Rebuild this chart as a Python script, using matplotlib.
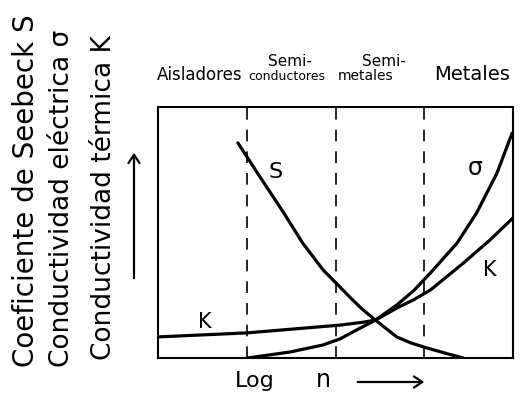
import matplotlib
matplotlib.use("Agg")
import matplotlib.pyplot as plt

# Regions (top category labels)
region_bottom = ["Aisladores", "conductores", "metales", "Metales"]
region_top = ["Semi-", "Semi-"]
dividers = [1, 2, 3]

# Seebeck coefficient S
s_x = [0.90, 1.15, 1.41, 1.63, 1.86, 2.05, 2.16, 2.30, 2.45, 2.69, 2.85, 3.03, 3.25, 3.44]
s_y = [0.857, 0.721, 0.582, 0.458, 0.351, 0.283, 0.243, 0.195, 0.151, 0.084, 0.060, 0.040, 0.018, 0.0]

# Electrical conductivity sigma
sig_x = [1.01, 1.49, 1.86, 2.05, 2.24, 2.45, 2.69, 2.88, 3.07, 3.37, 3.59, 3.82, 3.99]
sig_y = [0.0, 0.024, 0.052, 0.076, 0.112, 0.151, 0.211, 0.268, 0.339, 0.458, 0.578, 0.737, 0.896]

# Thermal conductivity K
k_x = [0.0, 1.0, 2.05, 2.30, 2.45, 2.69, 2.88, 3.07, 3.44, 3.74, 4.0]
k_y = [0.084, 0.100, 0.131, 0.142, 0.151, 0.199, 0.232, 0.271, 0.378, 0.470, 0.558]

W, H = 528, 397
fig = plt.figure(figsize=(W / 100, H / 100), dpi=100)
fig.patch.set_facecolor("white")

def fx(px):
    return px / W

def fy(py):
    return 1 - py / H

ax = fig.add_axes([fx(158), fy(358), (513 - 158) / W, (358 - 107) / H])
ax.set_xlim(0, 4)
ax.set_ylim(0, 1)
ax.set_xticks([])
ax.set_yticks([])
for sp in ax.spines.values():
    sp.set_linewidth(1.5)
    sp.set_color("black")

for d in dividers:
    ax.axvline(d, color="black", lw=1.2, linestyle=(0, (7, 6)))

lw = 2.3
ax.plot(s_x, s_y, color="black", lw=lw, solid_capstyle="round", solid_joinstyle="round")
ax.plot(sig_x, sig_y, color="black", lw=lw, solid_capstyle="round", solid_joinstyle="round")
ax.plot(k_x, k_y, color="black", lw=lw, solid_capstyle="round", solid_joinstyle="round")

ax.text(1.32, 0.74, "S", fontsize=16, ha="center", va="center")
ax.text(3.57, 0.757, "σ", fontsize=17, ha="center", va="center")
ax.text(3.74, 0.35, "K", fontsize=15, ha="center", va="center")
ax.text(0.53, 0.143, "K", fontsize=15, ha="center", va="center")

# top region labels (axes fraction)
bx = [0.118, 0.362, 0.585, 0.885]
bsize = [12, 9, 10, 14]
for lab, x, s in zip(region_bottom, bx, bsize):
    ax.text(x, 1.108, lab, transform=ax.transAxes, ha="center", va="baseline", fontsize=s)
tx = [0.372, 0.637]
for lab, x in zip(region_top, tx):
    ax.text(x, 1.165, lab, transform=ax.transAxes, ha="center", va="baseline", fontsize=11)

# y labels
ylabels = ["Coeficiente de Seebeck S", "Conductividad eléctrica σ", "Conductividad térmica K"]
ypos = [(26, 191), (62, 198), (104, 198)]
ysize = [20, 19, 19]
for lab, (px, py), s in zip(ylabels, ypos, ysize):
    fig.text(fx(px), fy(py), lab, rotation=90, ha="center", va="center", fontsize=s)

fig.add_artist(matplotlib.patches.FancyArrowPatch(
    (fx(134), fy(281)), (fx(134), fy(150)), transform=fig.transFigure,
    arrowstyle="->,head_length=6,head_width=4", lw=1.6, color="black"))

# x label
fig.text(fx(255), fy(381), "Log", ha="center", va="center", fontsize=16)
fig.text(fx(323), fy(380), "n", ha="center", va="center", fontsize=17)
fig.add_artist(matplotlib.patches.FancyArrowPatch(
    (fx(355), fy(382)), (fx(427), fy(382)), transform=fig.transFigure,
    arrowstyle="->,head_length=6,head_width=4", lw=1.6, color="black"))

fig.savefig("out.png", dpi=100)
